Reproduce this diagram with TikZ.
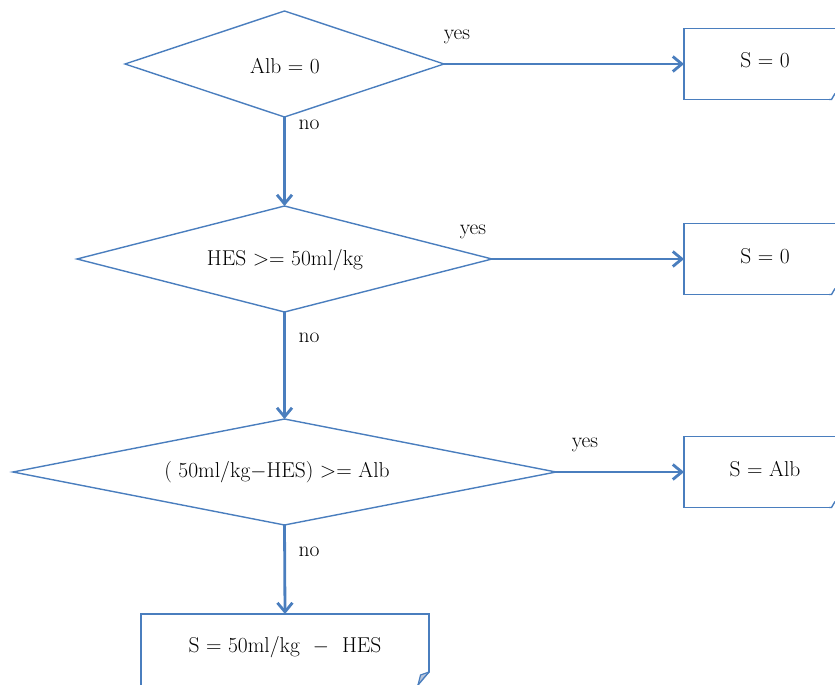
\documentclass[tikz,border=0pt]{standalone}
\usetikzlibrary{shapes.geometric,arrows.meta}
\definecolor{lc}{RGB}{74,126,190}
\definecolor{foldc}{RGB}{185,198,220}
\newcommand\dfont{\fontsize{21.5}{25}\selectfont}
\begin{document}
\begin{tikzpicture}[x=1pt,y=-1pt,
  dec/.style={diamond, draw=lc, line width=1.4pt, inner sep=0pt, outer sep=0pt, shape aspect=5, font=\dfont},
  res/.style={rectangle, draw=lc, line width=1.4pt, inner sep=0pt, outer sep=0pt, font=\dfont},
  arr/.style={draw=lc, line width=2.8pt, -{Straight Barb[length=9pt,width=15pt]}},
  lbl/.style={font=\dfont, inner sep=0pt}]
\useasboundingbox (0,0) rectangle (835,685);
\clip (0,0) rectangle (835,685);
% decisions
\node[dec, minimum width=319pt, minimum height=106pt] (d1) at (284.5,64) {};
\node[lbl] (t1) at (285,66) {Alb = 0};
\node[dec, minimum width=415pt, minimum height=106pt] (d2) at (284.5,259) {};
\node[lbl] (t2) at (285,260) {HES >= 50ml/kg};
\node[dec, minimum width=543pt, minimum height=106pt] (d3) at (284.5,472) {};
\node[lbl] (t3) at (277,472) {( 50ml/kg$-$HES) >= Alb};
% results
\node[res, minimum width=162pt, minimum height=71pt] (b1) at (765,64) {};
\node[lbl] (s1) at (765,60) {S = 0};
\node[res, minimum width=162pt, minimum height=71pt] (b2) at (765,259) {};
\node[lbl] (s2) at (765,256) {S = 0};
\node[res, minimum width=162pt, minimum height=71pt] (b3) at (765,472) {};
\node[lbl] (s3) at (765,469) {S = Alb};
\node[res, minimum width=288pt, minimum height=140pt] (b4) at (285,684) {};
\node[lbl] (t4) at (285,647) {S = 50ml/kg~~$-$~~HES};
% connectors
\draw[arr] (d1.east) -- (b1.west);
\draw[arr] (d2.east) -- (b2.west);
\draw[arr] (d3.east) -- (b3.west);
\draw[arr] (d1.south) -- (d2.north);
\draw[arr] (d2.south) -- (d3.north);
\draw[arr] (d3.south) -- (b4.north);
% labels
\node[lbl] (y1) at (457,37) {yes};
\node[lbl] (y2) at (473,232) {yes};
\node[lbl] (y3) at (585,445) {yes};
\node[lbl] (n1) at (309,125) {no};
\node[lbl] (n2) at (309,338) {no};
\node[lbl] (n3) at (309,552) {no};
% folded corners
\foreach \yb in {99.5,294.5,507.5}{
  \fill[white] (830,\yb+2) -- (837,\yb+2) -- (837,\yb-7) -- cycle;
  \draw[lc, line width=1.4pt] (829,\yb) -- (831.5,\yb) -- (835,\yb-6);
}
\fill[white] (415,687) -- (432,687) -- (432,670) -- cycle;
\fill[foldc] (429,672) -- (418,685) -- (420.5,675) -- cycle;
\draw[lc, line width=1.2pt] (429,672) -- (420.5,675) -- (418,685);
\draw[lc, line width=1.4pt] (429,671) -- (429,672) -- (418,685);
\end{tikzpicture}
\end{document}
